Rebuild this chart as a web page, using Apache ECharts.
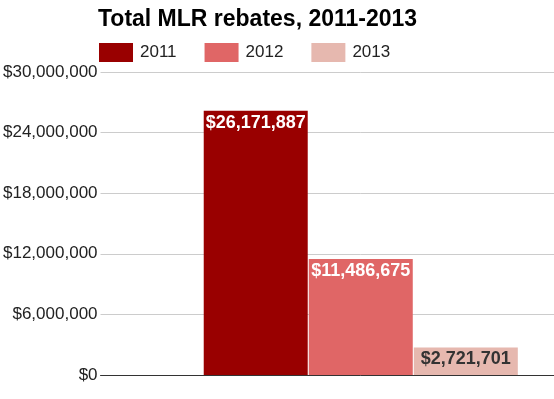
<!DOCTYPE html>
<html>
<head>
<meta charset="utf-8">
<script src="https://cdn.jsdelivr.net/npm/echarts@6/dist/echarts.min.js"></script>
<style>
  html, body { margin: 0; padding: 0; background: #fff; overflow: hidden; }
  /* plot area runs past the right edge of the window, as in the original */
  #chart { width: 621px; height: 399px; }
</style>
</head>
<body>
<div id="chart"></div>
<script>
  // one category, one bar per year
  const categories = ['Total']
  const years = ['2011', '2012', '2013']
  const rebates = [26171887, 11486675, 2721701]
  const yearColors = ['#990000', '#e06666', '#e6b8af']
  const labelColors = ['#ffffff', '#ffffff', '#333333']

  function money(v) {
    return '$' + Math.round(v).toLocaleString('en-US')
  }

  const chart = echarts.init(document.getElementById('chart'))
  chart.setOption({
    animation: false,
    title: {
      text: 'Total MLR rebates, 2011-2013',
      left: 93,
      top: 3,
      textStyle: { fontFamily: 'Liberation Sans', fontSize: 23, fontWeight: 'bold', color: '#000' }
    },
    legend: {
      left: 94,
      top: 38,
      itemWidth: 34,
      itemHeight: 19,
      itemGap: 28,
      icon: 'rect',
      textStyle: { fontFamily: 'Liberation Sans', fontSize: 17, color: '#222', padding: [0, 0, 0, 2], width: 38 },
      data: years
    },
    grid: { left: 99, right: 0, top: 72, bottom: 24 },
    xAxis: {
      type: 'category',
      data: categories,
      axisLabel: { show: false },
      axisTick: { show: false },
      axisLine: { lineStyle: { color: '#333', width: 1 } }
    },
    yAxis: {
      type: 'value',
      min: 0,
      max: 30000000,
      interval: 6000000,
      axisLine: { show: false },
      axisTick: { show: false },
      splitLine: { lineStyle: { color: '#cccccc' } },
      axisLabel: {
        margin: 3,
        fontFamily: 'Liberation Sans',
        fontSize: 17,
        color: '#222',
        formatter: money
      }
    },
    series: years.map((y, i) => ({
      name: y,
      type: 'bar',
      barWidth: 104,
      barGap: '1%',
      itemStyle: { color: yearColors[i] },
      label: {
        show: true,
        position: 'insideTop',
        distance: 3,
        fontFamily: 'Liberation Sans',
        fontSize: 18,
        fontWeight: 'bold',
        color: labelColors[i],
        formatter: p => money(p.value)
      },
      data: [rebates[i]]
    }))
  })
</script>
</body>
</html>
